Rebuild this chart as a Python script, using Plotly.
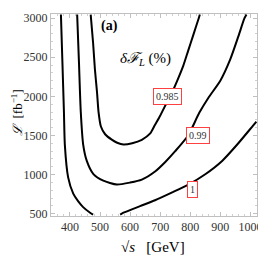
import plotly.graph_objects as go

# contour curves (sqrt(s) in GeV, luminosity in fb^-1)
c1_left_x = [370, 375, 380, 383, 394, 411, 427, 443, 467, 477]
c1_left_y = [3046, 2431, 1803, 1384, 965, 756, 660, 588, 513, 490]
c1_right_x = [567, 578, 633, 683, 740, 794, 850, 906, 957, 1011, 1020]
c1_right_y = [490, 513, 597, 672, 773, 873, 1005, 1175, 1388, 1636, 1677]

c099_x = [424, 430, 436, 444, 456, 478, 511, 556, 600, 639, 683, 717, 750, 793,
          830, 860, 900, 933, 960, 980, 987]
c099_y = [3046, 2431, 1803, 1384, 1175, 1007, 923, 873, 898, 936, 1040, 1162, 1300,
          1501, 1790, 1980, 2200, 2472, 2766, 2996, 3046]

c0985_x = [469, 477, 483, 490, 495, 503, 517, 539, 557, 578, 607, 639, 667, 683,
           700, 723, 740, 760, 777, 793, 810, 828, 832]
c0985_y = [3046, 2682, 2347, 2054, 1803, 1615, 1516, 1447, 1407, 1384, 1401, 1445,
           1526, 1637, 1753, 1928, 2054, 2230, 2393, 2582, 2783, 2996, 3046]

label_text = ["0.985", "0.99", "1"]
label_x = [723, 827, 806]
label_y = [2004, 1500, 810]

x_ticks = [400, 500, 600, 700, 800, 900, 1000]
y_ticks = [500, 1000, 1500, 2000, 2500, 3000]

SERIF = "Liberation Serif"
line_style = dict(color="black", width=2, shape="spline", smoothing=0.6)

fig = go.Figure()
for xs, ys in [(c1_left_x, c1_left_y), (c1_right_x, c1_right_y),
               (c099_x, c099_y), (c0985_x, c0985_y)]:
    fig.add_trace(go.Scatter(x=xs, y=ys, mode="lines", line=line_style,
                             hoverinfo="skip", showlegend=False))

for t, lx, ly in zip(label_text, label_x, label_y):
    fig.add_annotation(x=lx, y=ly, xref="x", yref="y", text=t, showarrow=False,
                       xanchor="center", yanchor="middle",
                       font=dict(family=SERIF, size=10, color="#333"),
                       bgcolor="white", bordercolor="#ff4040", borderwidth=1, borderpad=2)

def paper_text(x, y, text, size, angle=0):
    fig.add_annotation(x=x, y=y, xref="paper", yref="paper", text=text, showarrow=False,
                       xanchor="center", yanchor="middle", textangle=angle,
                       font=dict(family=SERIF, size=size, color="black"))

paper_text(0.282, 0.941, "<b>(a)</b>", 14)
paper_text(0.461, 0.776, "<i>δℱ<sub>L</sub></i> (%)", 15)
paper_text(-0.168, 0.512, "<i>ℒ</i>  [fb<sup>−1</sup>]", 13, -90)
paper_text(0.495, -0.151, "√<i>s</i>   [GeV]", 15)

axis_common = dict(showline=True, mirror="allticks", linecolor="#c0c0c0", linewidth=1,
                   ticks="inside", ticklen=4, tickcolor="#c0c0c0", showgrid=False,
                   zeroline=False, tickfont=dict(family=SERIF, size=12, color="#333"))

fig.update_xaxes(range=[337, 1022], tickvals=x_ticks,
                 minor=dict(dtick=20, ticks="inside", ticklen=2, tickcolor="#d0d0d0"),
                 **axis_common)
fig.update_yaxes(range=[471, 3053], tickvals=y_ticks,
                 minor=dict(dtick=100, ticks="inside", ticklen=2, tickcolor="#d0d0d0"),
                 **axis_common)

# the page body has an 8px default margin, so the figure is 258px and offset by 8px
fig.update_layout(width=258, height=258, margin=dict(l=43, r=9, t=3, b=50),
                  paper_bgcolor="white", plot_bgcolor="white", showlegend=False)

fig.write_html("out.html")
